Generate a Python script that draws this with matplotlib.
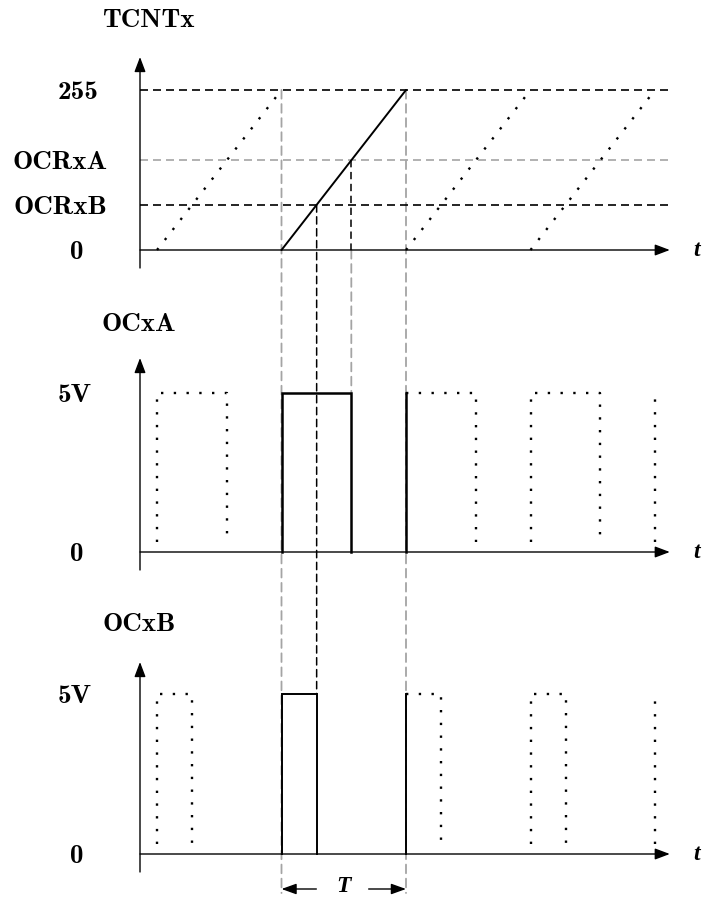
import os
import matplotlib
matplotlib.use("Agg")
import matplotlib.pyplot as plt
from matplotlib.font_manager import FontProperties
from matplotlib.patches import ConnectionPatch

# fast PWM: counter ramps and the two compare outputs
ramp_starts = [0, 1, 2, 3]        # start of each counter cycle, in periods
live_cycle = 1                    # the cycle drawn solid
tcnt_max = 255
ocr_a = 143
ocr_b = 72
v_high = 5

level_labels = ["255", "OCRxA", "OCRxB", "0"]
level_values = [tcnt_max, ocr_a, ocr_b, 0]

pulse_cycles = [0, 1, 2, 3, 4]
pulse_kind = ["ghost", "solid", "edge", "ghost", "rise"]

# page layout, in pixels
W, H = 706, 897
X0_PX, X1_PX = 140, 673
T0_PX, PER_PX = 157, 124.5

GRAY = "#a4a4a4"
DASH = (0, (4.8, 3.0))
DOT = (0, (1, 4.4))
DOT_LW = 1.7
GHOST_FLOOR = 0.3

bold_cm = FontProperties(fname=os.path.join(matplotlib.get_data_path(), "fonts", "ttf", "cmb10.ttf"),
                         size=19.5)
ital = dict(family="Liberation Serif", weight="bold", style="italic")

fig = plt.figure(figsize=(W / 100, H / 100), dpi=100)


def px_axes(ytop, ybot, zero_px, top_px, top_val):
    ax = fig.add_axes([X0_PX / W, 1 - ybot / H, (X1_PX - X0_PX) / W, (ybot - ytop) / H])
    ax.axis("off")
    ax.set_xlim((X0_PX - T0_PX) / PER_PX, (X1_PX - T0_PX) / PER_PX)
    scale = (zero_px - top_px) / top_val
    ax.set_ylim(-(ybot - zero_px) / scale, (zero_px - ytop) / scale)
    return ax


def axis_arrows(ax):
    head = dict(arrowstyle="-|>,head_length=0.45,head_width=0.17", mutation_scale=20,
                color="black", lw=1.0, shrinkA=0, shrinkB=0)
    ax.annotate("", xy=(0, 1), xytext=(0, 0), xycoords="axes fraction", arrowprops=head)
    ax.annotate("", xy=(0.994, 0), xytext=(0, 0), xycoords=("axes fraction", "data"),
                arrowprops=head)
    ax.annotate("t", xy=(1, 0), xycoords=("axes fraction", "data"), xytext=(17, 0),
                textcoords="offset points", ha="center", va="center", fontsize=17,
                annotation_clip=False, **ital)


def side_label(ax, text, value, dx_px):
    ax.annotate(text, xy=(0, value), xycoords=("axes fraction", "data"),
                xytext=(dx_px * 0.72, 0), textcoords="offset points",
                ha="center", va="center_baseline", fontproperties=bold_cm,
                annotation_clip=False)


ax_c = px_axes(57, 268, 250, 90, tcnt_max)
ax_a = px_axes(358, 570, 552, 393, v_high)
ax_b = px_axes(662, 872, 854, 694, v_high)

# counter panel
for lvl, col in [(tcnt_max, "black"), (ocr_a, GRAY), (ocr_b, "black")]:
    ax_c.axhline(lvl, color=col, lw=1.2, linestyle=DASH, zorder=1)
for s in ramp_starts:
    if s == live_cycle:
        ax_c.plot([s, s + 1], [0, tcnt_max], color="black", lw=1.4, solid_capstyle="round", zorder=3)
    else:
        ax_c.plot([s, s + 1], [0, tcnt_max], color="black", lw=DOT_LW, linestyle=DOT, zorder=3)
axis_arrows(ax_c)
offsets = {"255": -62, "OCRxA": -80, "OCRxB": -80, "0": -63}
for lab, val in zip(level_labels, level_values):
    side_label(ax_c, lab, val, offsets[lab])


def draw_pulses(ax, count, lw):
    duty = count / tcnt_max
    for c, kind in zip(pulse_cycles, pulse_kind):
        t_on, t_off = c, c + duty
        if kind == "solid":
            ax.plot([t_on, t_on, t_off, t_off], [0, v_high, v_high, 0], color="black",
                    lw=lw, solid_joinstyle="miter")
        elif kind == "edge":
            ax.plot([t_on, t_on], [0, v_high], color="black", lw=lw)
            ax.plot([t_on, t_off, t_off], [v_high, v_high, GHOST_FLOOR], color="black",
                    lw=DOT_LW, linestyle=DOT)
        elif kind == "ghost":
            ax.plot([t_on, t_on, t_off, t_off], [GHOST_FLOOR, v_high, v_high, GHOST_FLOOR],
                    color="black", lw=DOT_LW, linestyle=DOT)
        else:
            ax.plot([t_on, t_on], [GHOST_FLOOR, v_high], color="black", lw=DOT_LW, linestyle=DOT)
    axis_arrows(ax)
    side_label(ax, "5V", v_high, -65)
    side_label(ax, "0", 0, -63)


draw_pulses(ax_a, ocr_a, 1.8)
draw_pulses(ax_b, ocr_b, 1.4)

fig.text(148 / W, 1 - 18 / H, "TCNTx", ha="center", va="center_baseline", fontproperties=bold_cm)
fig.text(139 / W, 1 - 322 / H, "OCxA", ha="center", va="center_baseline", fontproperties=bold_cm)
fig.text(139 / W, 1 - 622 / H, "OCxB", ha="center", va="center_baseline", fontproperties=bold_cm)

# guide lines running down through the panels, kept beneath the signals
t_a = live_cycle + ocr_a / tcnt_max
t_b = live_cycle + ocr_b / tcnt_max
y_floor = -(893 - 854) / 32
y_dim = -(889 - 854) / 32
y_base = -(892 - 854) / 32


def guide(t, y_from, ax_from, y_to, ax_to, color, lw):
    con = ConnectionPatch((t, y_from), (t, y_to), "data", "data",
                          axesA=ax_from, axesB=ax_to, color=color, lw=lw,
                          linestyle=DASH, zorder=-1)
    con.set_annotation_clip(False)
    fig.add_artist(con)


for t in (live_cycle, live_cycle + 1):
    guide(t, tcnt_max, ax_c, y_floor, ax_b, GRAY, 1.3)
ax_c.plot([t_a, t_a], [ocr_a, 0], color="black", lw=1.1, linestyle=DASH, zorder=1)
guide(t_a, 0, ax_c, v_high, ax_a, GRAY, 1.3)
guide(t_b, ocr_b, ax_c, v_high, ax_b, "black", 1.1)

# period marker
mid = live_cycle + 0.5
dim = dict(arrowstyle="-|>,head_length=0.5,head_width=0.18", mutation_scale=18,
           color="black", lw=1.0, shrinkA=0, shrinkB=0)
ax_b.annotate("", xy=(live_cycle, y_dim), xytext=(mid - 0.22, y_dim), arrowprops=dim,
              annotation_clip=False)
ax_b.annotate("", xy=(live_cycle + 1, y_dim), xytext=(mid + 0.2, y_dim), arrowprops=dim,
              annotation_clip=False)
ax_b.text(mid, y_base, "T", ha="center", va="baseline", fontsize=17, clip_on=False, **ital)

fig.savefig("out.png", dpi=100)
